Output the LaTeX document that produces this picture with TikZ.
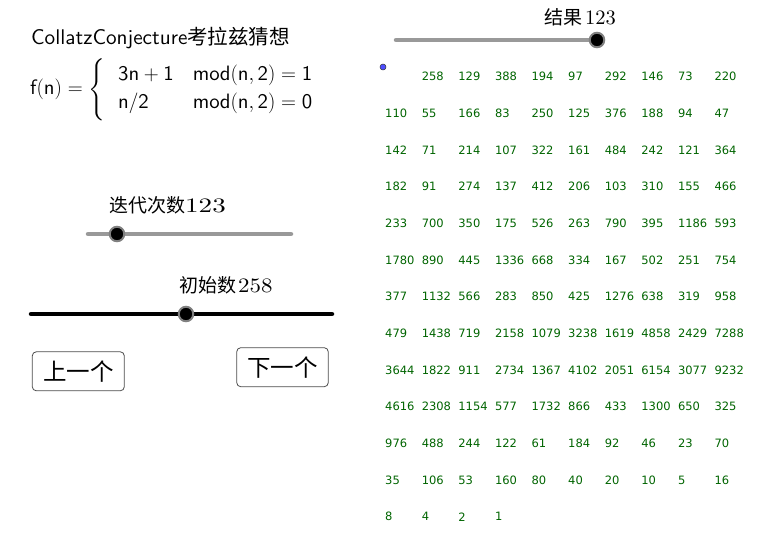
\documentclass[tikz,border=0pt]{standalone}
\usepackage{graphicx}
\usepackage{exscale}
\usepackage{fontspec}
\setsansfont{lmsans10-regular.otf}
\newfontfamily\cjk{Noto Sans CJK SC}
\newfontfamily\numfont{DejaVu Sans}
\newfontfamily\labeldigits{lmroman10-regular.otf}
\newcommand{\lbldig}[2]{{\labeldigits\fontsize{20.5}{22}\selectfont\scalebox{#1}[1]{#2}}}
\definecolor{numgreen}{RGB}{0,100,0}
\definecolor{trackgray}{RGB}{153,153,153}
\definecolor{ringgray}{RGB}{128,128,128}
\definecolor{dotblue}{RGB}{77,77,255}
\begin{document}
\begin{tikzpicture}[x=1pt,y=-1pt,
  track/.style={line width=4.5pt, line cap=round},
  knob/.style={circle, fill=black, draw=ringgray, line width=2pt, minimum size=14.5pt, inner sep=0pt},
  num/.style={anchor=west, inner sep=0pt, text=numgreen, font=\numfont\fontsize{11.5}{13}\selectfont},
  btn/.style={draw=black!70, rounded corners=4pt, line width=0.8pt, inner sep=0pt, font=\cjk\fontsize{23.5}{25}\selectfont},
  sliderlabel/.style={anchor=base west, inner sep=0pt, font=\cjk\fontsize{19}{22}\selectfont},
  plain/.style={anchor=base west, inner sep=0pt}]
\useasboundingbox (0,0) rectangle (765,533);

% title and formula
\node[plain, font=\sffamily\fontsize{21.2}{24}\selectfont] (title) at (31,44.5)
  {CollatzConjecture{\cjk\fontsize{20.5}{24}\selectfont 考拉兹猜想}};
\node[plain, font=\fontsize{20.8}{28}\selectfont] (formula) at (30,94.5)
  {$\mathsf{f(n)} = \left\{\rule[-25pt]{0pt}{60pt}\begin{array}{@{\hspace{13pt}}l@{\hspace{19pt}}l@{}}
     \mathsf{3n}+\mathsf{1} & \mathsf{mod(n,2)}=\mathsf{1}\\
     \mathsf{n/2} & \mathsf{mod(n,2)}=\mathsf{0}
   \end{array}\right.$};

% slider: iterations
\coordinate (s1a) at (88,234);
\coordinate (s1b) at (291,234);
\draw[track, trackgray] (s1a) -- (s1b);
\node[knob] (k1) at (117,234) {};
\node[sliderlabel] (l1) at (109,212) {迭代次数\lbldig{1.32}{123}};

% slider: initial number
\coordinate (s2a) at (31,314);
\coordinate (s2b) at (332,314);
\draw[track, black] (s2a) -- (s2b);
\node[knob] (k2) at (186,314) {};
\node[sliderlabel] (l2) at (179,292) {初始数\hspace{2pt}\lbldig{1.12}{258}};

% slider: result
\coordinate (s3a) at (396,40);
\coordinate (s3b) at (597,40);
\draw[track, trackgray] (s3a) -- (s3b);
\node[knob] (k3) at (597,40) {};
\node[sliderlabel] (l3) at (544,24) {结果\hspace{3pt}\lbldig{1.0}{123}};

% buttons
\node[btn, minimum width=92pt, minimum height=39pt] (prev) at (78.3,371.3) {上一个};
\node[btn, minimum width=91.5pt, minimum height=39pt] (next) at (282.5,367.2) {下一个};

% blue point
\node[circle, fill=dotblue, draw=black!80, line width=0.5pt, minimum size=6pt, inner sep=0pt] (pt) at (383,67) {};

% sequence
\foreach \v [count=\i] in {258,129,388,194,97,292,146,73,220,110,55,166,83,250,125,376,188,94,47,142,71,214,107,322,161,484,242,121,364,182,91,274,137,412,206,103,310,155,466,233,700,350,175,526,263,790,395,1186,593,1780,890,445,1336,668,334,167,502,251,754,377,1132,566,283,850,425,1276,638,319,958,479,1438,719,2158,1079,3238,1619,4858,2429,7288,3644,1822,911,2734,1367,4102,2051,6154,3077,9232,4616,2308,1154,577,1732,866,433,1300,650,325,976,488,244,122,61,184,92,46,23,70,35,106,53,160,80,40,20,10,5,16,8,4,2,1}{
  \pgfmathtruncatemacro{\col}{mod(\i,10)}
  \pgfmathtruncatemacro{\row}{floor(\i/10)}
  \node[num] (n\i) at ({385+36.6*\col},{76.7+36.67*\row}) {\v};
}
\end{tikzpicture}
\end{document}
